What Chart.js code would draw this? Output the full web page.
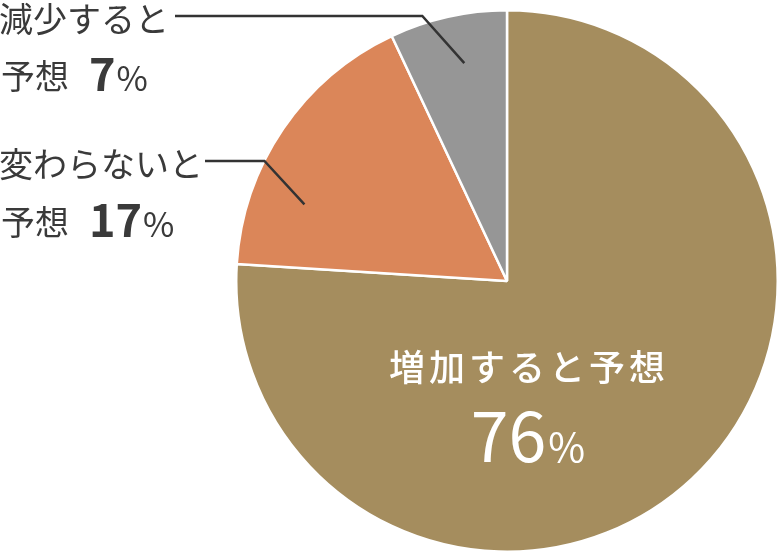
<!DOCTYPE html>
<html lang="ja">
<head>
<meta charset="utf-8">
<script src="https://cdn.jsdelivr.net/npm/chart.js@4"></script>
<style>
  html, body { margin: 0; padding: 0; background: #fff; }
  #wrap { width: 780px; height: 554px; position: relative; }
</style>
</head>
<body>
<div id="wrap"><canvas id="pie"></canvas></div>
<script>
// ── Data ──────────────────────────────────────────────────────────────────────
const categories = ["増加すると予想", "変わらないと予想", "減少すると予想"];
const values     = [76, 17, 7];
const colors     = ["#a58d5e", "#db8659", "#969696"];

const FONT = '"Noto Sans CJK JP", "Noto Sans", sans-serif';
const INK  = "#3a3a3a";

// ── Labels plugin ─────────────────────────────────────────────────────────────
// outside labels: two text lines + elbow leader into the slice
const outside = {
  1: { line1: "変わらないと", y1: 164, y2: 222, lineX: 205, at: 0.28, rr: 0.8, dx: 40, dy: 40 },
  2: { line1: "減少すると",   y1: 19,  y2: 76,  lineX: 175, at: 0.56, rr: 0.82, dx: 42, dy: 49 },
};

const labelPlugin = {
  id: "pieLabels",
  afterDraw(chart) {
    const ctx = chart.ctx;
    const arcs = chart.getDatasetMeta(0).data;
    ctx.save();

    // big slice: label inside
    const a0 = arcs[0];
    ctx.fillStyle = "#fff";
    ctx.textAlign = "center";
    ctx.textBaseline = "middle";
    ctx.font = `500 36px ${FONT}`;
    if (ctx.letterSpacing !== undefined) ctx.letterSpacing = "4px";
    const cx = a0.x + 20;
    ctx.fillText(categories[0], cx + 2, a0.y + 86);
    if (ctx.letterSpacing !== undefined) ctx.letterSpacing = "0px";
    ctx.font = `400 68px ${FONT}`;
    const num = String(values[0]);
    const wNum = ctx.measureText(num).width;
    ctx.font = `400 40px ${FONT}`;
    const wPct = ctx.measureText("%").width;
    const sx = cx - (wNum + wPct) / 2;
    ctx.textAlign = "left";
    ctx.textBaseline = "alphabetic";
    ctx.font = `400 68px ${FONT}`;
    ctx.fillText(num, sx, a0.y + 181);
    ctx.font = `400 40px ${FONT}`;
    ctx.fillText("%", sx + wNum + 2, a0.y + 181);

    // small slices: outside labels with leaders
    Object.keys(outside).forEach(k => {
      const i = +k, o = outside[k], arc = arcs[i];
      const ang = arc.startAngle + (arc.endAngle - arc.startAngle) * o.at;
      const ex = arc.x + Math.cos(ang) * arc.outerRadius * o.rr;
      const ey = arc.y + Math.sin(ang) * arc.outerRadius * o.rr;

      ctx.fillStyle = INK;
      ctx.textAlign = "left";
      ctx.textBaseline = "middle";
      ctx.font = `400 34px ${FONT}`;
      ctx.fillText(o.line1, -1, o.y1);
      ctx.fillText("予想", 1, o.y2);

      ctx.textBaseline = "alphabetic";
      ctx.font = `700 45px ${FONT}`;
      const n = String(values[i]);
      ctx.fillText(n, 89, o.y2 + 15);
      const wn = ctx.measureText(n).width;
      ctx.font = `400 34px ${FONT}`;
      ctx.fillText("%", 89 + wn + 1, o.y2 + 15);

      ctx.strokeStyle = "#333";
      ctx.lineWidth = 2.5;
      ctx.beginPath();
      ctx.moveTo(o.lineX, o.y1 - 3);
      ctx.lineTo(ex - o.dx, o.y1 - 3);
      ctx.lineTo(ex, ey);
      ctx.stroke();
    });
    ctx.restore();
  },
};

// ── Chart ─────────────────────────────────────────────────────────────────────
new Chart(document.getElementById("pie"), {
  type: "pie",
  data: {
    labels: categories,
    datasets: [{
      data: values,
      backgroundColor: colors,
      borderColor: "#fff",
      borderWidth: 2.5,
    }],
  },
  options: {
    responsive: true,
    maintainAspectRatio: false,
    animation: false,
    layout: { padding: { left: 235, right: 1, top: 9, bottom: 1 } },
    plugins: { legend: { display: false }, tooltip: { enabled: false } },
  },
  plugins: [labelPlugin],
});
</script>
</body>
</html>
